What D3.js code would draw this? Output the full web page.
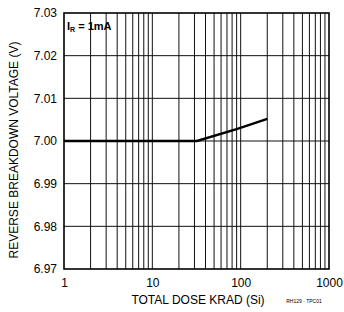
<!DOCTYPE html>
<html>
<head>
<meta charset="utf-8">
<script src="https://cdn.jsdelivr.net/npm/d3@7"></script>
<style>
  body { margin: 0; background: #fff; }
  text { font-family: "Liberation Sans", Arial, sans-serif; fill: #000; }
</style>
</head>
<body>
<script>
// curve data
const dose = [1, 32, 90, 200];
const voltage = [7.0, 7.0, 7.0028, 7.0052];

// tick labels
const yTicks = [6.97, 6.98, 6.99, 7.0, 7.01, 7.02, 7.03];
const xTicks = [1, 10, 100, 1000];

// canvas
const width = 344;
const height = 312;
const padLeft = 64, padRight = 329, padTop = 13, padBottom = 269;

const svg = d3
  .select("body")
  .append("svg")
  .attr("width", width)
  .attr("height", height);

// scales
const xScale = d3.scaleLog().domain([1, 1000]).range([padLeft, padRight]);
const yScale = d3.scaleLinear().domain([6.97, 7.03]).range([padBottom, padTop]);

// minor + major grid lines (every 1..9 per decade)
const xGrid = xScale.ticks(30).filter((d) => d > 1 && d < 1000);

svg
  .append("g")
  .selectAll("line")
  .data(xGrid)
  .enter()
  .append("line")
  .attr("x1", (d) => xScale(d))
  .attr("x2", (d) => xScale(d))
  .attr("y1", padTop)
  .attr("y2", padBottom)
  .attr("stroke", "#111")
  .attr("stroke-width", 1);

svg
  .append("g")
  .selectAll("line")
  .data(yTicks.slice(1, -1))
  .enter()
  .append("line")
  .attr("x1", padLeft)
  .attr("x2", padRight)
  .attr("y1", (d) => yScale(d))
  .attr("y2", (d) => yScale(d))
  .attr("stroke", "#111")
  .attr("stroke-width", 1);

// frame
svg
  .append("rect")
  .attr("x", padLeft)
  .attr("y", padTop)
  .attr("width", padRight - padLeft)
  .attr("height", padBottom - padTop)
  .attr("fill", "none")
  .attr("stroke", "#000")
  .attr("stroke-width", 1.6);

// axes (labels only, frame draws the lines)
const xAxis = d3
  .axisBottom(xScale)
  .tickValues(xTicks)
  .tickFormat(d3.format("d"))
  .tickSize(0)
  .tickPadding(9);

svg
  .append("g")
  .attr("transform", "translate(0," + padBottom + ")")
  .call(xAxis)
  .call((g) => g.select(".domain").remove())
  .selectAll("text")
  .style("font-size", "12px")
  .style("font-family", "Liberation Sans, Arial, sans-serif");

const yAxis = d3
  .axisLeft(yScale)
  .tickValues(yTicks)
  .tickFormat(d3.format(".2f"))
  .tickSize(0)
  .tickPadding(7);

svg
  .append("g")
  .attr("transform", "translate(" + padLeft + ",0)")
  .call(yAxis)
  .call((g) => g.select(".domain").remove())
  .selectAll("text")
  .style("font-size", "12px")
  .style("font-family", "Liberation Sans, Arial, sans-serif");

// the curve
const line = d3
  .line()
  .x((d, i) => xScale(dose[i]))
  .y((d, i) => yScale(voltage[i]));

svg
  .append("path")
  .datum(dose)
  .attr("d", line)
  .attr("fill", "none")
  .attr("stroke", "#000")
  .attr("stroke-width", 2.4);

// annotation
const note = svg
  .append("text")
  .attr("x", 67)
  .attr("y", 30)
  .style("font-size", "11px")
  .style("font-weight", "bold");
note.append("tspan").text("I");
note.append("tspan").attr("dy", 2).style("font-size", "7px").text("R");
note.append("tspan").attr("dy", -2).text(" = 1mA");

// axis titles
svg
  .append("text")
  .attr("x", 198)
  .attr("y", 304)
  .style("text-anchor", "middle")
  .style("font-size", "12px")
  .text("TOTAL DOSE KRAD (Si)");

svg
  .append("text")
  .attr("x", 304)
  .attr("y", 303)
  .style("text-anchor", "middle")
  .style("font-size", "5px")
  .text("RH129 · TPC01");

svg
  .append("text")
  .attr("transform", "translate(18,150) rotate(-90)")
  .style("text-anchor", "middle")
  .style("font-size", "12px")
  .text("REVERSE BREAKDOWN VOLTAGE (V)");
</script>
</body>
</html>
